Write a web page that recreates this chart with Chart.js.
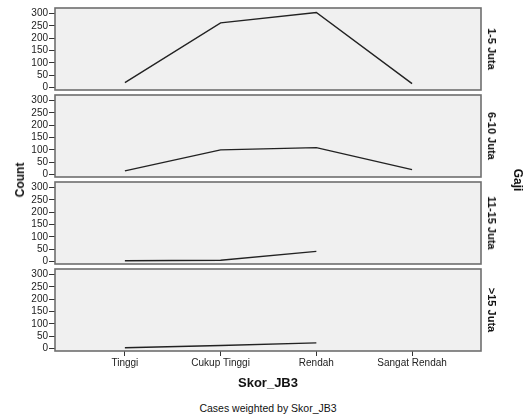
<!DOCTYPE html>
<html>
<head>
<meta charset="utf-8">
<script src="https://cdn.jsdelivr.net/npm/chart.js@4.4.0/dist/chart.umd.min.js"></script>
<style>
  body { margin: 0; background: #fff; }
  #wrap { position: relative; width: 528px; height: 414px; overflow: hidden; font-family: "Liberation Sans", Arial, sans-serif; color: #111; }
  canvas { position: absolute; left: 0; }
  .lbl { position: absolute; white-space: nowrap; transform: translate(-50%, -50%); }
  .rot { transform: translate(-50%, -50%) rotate(90deg); }
  .rotl { transform: translate(-50%, -50%) rotate(-90deg); }
  .b { font-weight: bold; }
</style>
</head>
<body>
<div id="wrap"></div>
<script>
const categories = ['Tinggi', 'Cukup Tinggi', 'Rendah', 'Sangat Rendah'];
const panelLabels = ['1-5 Juta', '6-10 Juta', '11-15 Juta', '>15 Juta'];
const panelValues = [
  [20, 262, 304, 16],
  [15, 100, 109, 20],
  [3, 5, 41, null],
  [3, 12, 23, null]
];
const yTicks = [0, 50, 100, 150, 200, 250, 300];

Chart.defaults.font.family = '"Liberation Sans", Arial, sans-serif';
Chart.defaults.font.size = 10;
Chart.defaults.color = '#222';

const wrap = document.getElementById('wrap');
const panelTops = [8, 95, 182, 269];
const panelH = 82;

// grey panel with frame
const panelFrame = {
  id: 'panelFrame',
  beforeDraw(chart) {
    const a = chart.chartArea, ctx = chart.ctx;
    ctx.save();
    ctx.fillStyle = '#f0f0f0';
    ctx.fillRect(a.left, a.top, a.right - a.left, a.bottom - a.top);
    ctx.restore();
  },
  afterDraw(chart) {
    const a = chart.chartArea, ctx = chart.ctx;
    ctx.save();
    ctx.strokeStyle = '#6e6e6e';
    ctx.lineWidth = 1.6;
    ctx.strokeRect(a.left, a.top, a.right - a.left, a.bottom - a.top);
    ctx.restore();
  }
};

function addLabel(text, x, y, cls, size) {
  const d = document.createElement('div');
  d.className = 'lbl ' + cls;
  d.style.left = x + 'px';
  d.style.top = y + 'px';
  d.style.fontSize = size + 'px';
  d.textContent = text;
  wrap.appendChild(d);
}

panelValues.forEach((vals, p) => {
  const last = p === panelValues.length - 1;
  const c = document.createElement('canvas');
  const h = last ? 8 + panelH + 22 : 8 + panelH + 8;
  c.style.top = (panelTops[p] - 8) + 'px';
  c.width = 528; c.height = h;
  c.style.width = '528px'; c.style.height = h + 'px';
  wrap.appendChild(c);

  new Chart(c, {
    type: 'line',
    data: {
      datasets: [{
        data: categories.map((_, i) => ({ x: i, y: vals[i] })),
        borderColor: '#222',
        borderWidth: 1.4,
        pointRadius: 0,
        tension: 0,
        spanGaps: false
      }]
    },
    options: {
      responsive: false,
      animation: false,
      events: [],
      layout: { padding: { left: 0, right: 47, top: 8, bottom: last ? 0 : 8 } },
      plugins: { legend: { display: false }, tooltip: { enabled: false } },
      scales: {
        x: {
          type: 'linear',
          display: last,
          min: -0.73,
          max: 3.72,
          afterBuildTicks: s => { s.ticks = categories.map((_, i) => ({ value: i })); },
          afterFit: s => { s.height = last ? 22 : 0; },
          ticks: { callback: v => categories[v], padding: 1, maxRotation: 0, autoSkip: false },
          grid: { drawOnChartArea: false, drawTicks: true, tickLength: 5, color: '#333' },
          border: { display: false }
        },
        y: {
          min: -10,
          max: 322,
          afterBuildTicks: s => { s.ticks = yTicks.map(v => ({ value: v })); },
          afterFit: s => { s.width = 55; },
          ticks: { padding: 1, autoSkip: false },
          grid: { drawOnChartArea: false, drawTicks: true, tickLength: 6, color: '#333' },
          border: { display: false }
        }
      }
    },
    plugins: [panelFrame]
  });

  addLabel(panelLabels[p], 492, panelTops[p] + panelH / 2, 'b rot', 11);
});

addLabel('Count', 20, 180, 'b rotl', 12);
addLabel('Gaji', 518, 180, 'b rot', 12);
addLabel('Skor_JB3', 268, 382, 'b', 13);
addLabel('Cases weighted by Skor_JB3', 268, 408, '', 10.5);
</script>
</body>
</html>
